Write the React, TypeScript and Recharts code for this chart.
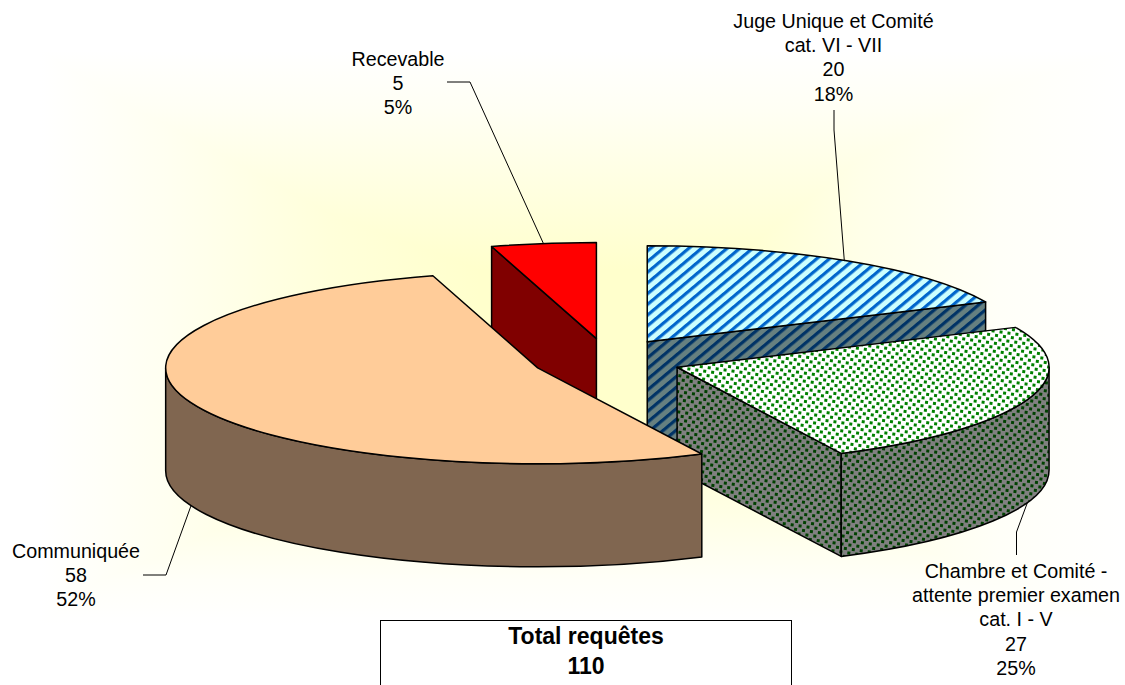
import React from 'react';
import { PieChart, Pie } from 'recharts';

// drawing order is back to front, so Recevable comes first
const categories = ['Recevable', 'Juge Unique et Comité\ncat. VI - VII', 'Chambre et Comité -\nattente premier examen\ncat. I - V', 'Communiquée'];
const values = [5, 20, 27, 58];
const percents = [5, 18, 25, 52];

const total = values.reduce((a, b) => a + b, 0);
const chartData = categories.map((name, i) => ({ name, value: values[i], percent: percents[i] }));

const topFills = ['#FF0000', 'url(#hatchTop)', 'url(#dotsTop)', '#FFCC99'];
const wallFills = ['#800000', 'url(#hatchWall)', 'url(#dotsWall)', '#806650'];

const SQUASH = 96 / 372;
const EXPLODE = 0.2;
const EXPLODE_Y = 0.225;
const DEPTH = 103;
const FONT = '"Liberation Sans", Arial, sans-serif';

const labelLayout = [
  { x: 398, y: 65.5, leader: [[447, 82], [470, 82]], onWall: false, dx: 0, dy: 0 },
  { x: 833.5, y: 27.5, leader: [[834, 110], [834, 130]], onWall: false, dx: -4, dy: 0 },
  { x: 1016, y: 577.5, leader: [[1016.5, 555], [1016.5, 532]], onWall: true, dx: 0, dy: 0 },
  { x: 76, y: 557.5, leader: [[143, 575], [166, 575]], onWall: true, dx: 0, dy: 0 },
];

const rad = (deg: number) => (deg * Math.PI) / 180;

const ellipsePoint = (cx: number, cy: number, r: number, deg: number) => ({
  x: cx + r * Math.cos(rad(deg)),
  y: cy - r * SQUASH * Math.sin(rad(deg)),
});

const explodedCenter = (cx: number, cy: number, r: number, mid: number) => ({
  x: cx + r * EXPLODE * Math.cos(rad(mid)),
  y: cy - r * SQUASH * EXPLODE_Y * Math.sin(rad(mid)),
});

const Slice3D = (props: any) => {
  const { cx, cy, outerRadius: r, startAngle: s, endAngle: e, index } = props;
  const c = explodedCenter(cx, cy, r, (s + e) / 2);
  const ry = r * SQUASH;
  const p1 = ellipsePoint(c.x, c.y, r, s);
  const p2 = ellipsePoint(c.x, c.y, r, e);
  const large = s - e > 180 ? 1 : 0;
  const top = `M${c.x},${c.y} L${p1.x},${p1.y} A${r},${ry} 0 ${large} 1 ${p2.x},${p2.y} Z`;

  const face = (p: { x: number; y: number }) =>
    `M${c.x},${c.y} L${p.x},${p.y} L${p.x},${p.y + DEPTH} L${c.x},${c.y + DEPTH} Z`;

  // the rim only shows on the front half of the ellipse
  const frontStart = Math.min(s, 0);
  const frontEnd = Math.max(e, -180);
  let rim = '';
  if (frontStart > frontEnd) {
    const a = ellipsePoint(c.x, c.y, r, frontStart);
    const b = ellipsePoint(c.x, c.y, r, frontEnd);
    rim = `M${a.x},${a.y} A${r},${ry} 0 0 1 ${b.x},${b.y} L${b.x},${b.y + DEPTH} A${r},${ry} 0 0 0 ${a.x},${a.y + DEPTH} Z`;
  }

  const common = { stroke: '#000', strokeWidth: 1.5, strokeLinejoin: 'round' as const };
  return (
    <g>
      {Math.cos(rad(s)) < -0.001 && <path d={face(p1)} fill={wallFills[index]} {...common} />}
      {Math.cos(rad(e)) > 0.001 && <path d={face(p2)} fill={wallFills[index]} {...common} />}
      {rim && <path d={rim} fill={wallFills[index]} {...common} />}
      <path d={top} fill={topFills[index]} {...common} />
    </g>
  );
};

const SliceLabel = (props: any) => {
  const { cx, cy, outerRadius: r, midAngle, index } = props;
  const layout = labelLayout[index];
  const row = chartData[index];
  const c = explodedCenter(cx, cy, r, midAngle);
  const anchor = ellipsePoint(c.x, c.y, r, midAngle);
  const endY = anchor.y + (layout.onWall ? DEPTH : 0) + layout.dy;
  const lines = [...row.name.split('\n'), String(row.value), `${row.percent}%`];
  const points = [...layout.leader, [anchor.x + layout.dx, endY]].map((p) => p.join(',')).join(' ');
  return (
    <g>
      <polyline points={points} fill="none" stroke="#000" strokeWidth={1} />
      <text x={layout.x} y={layout.y} textAnchor="middle" fontFamily={FONT} fontSize={19.7} fill="#000">
        {lines.map((line, i) => (
          <tspan key={i} x={layout.x} y={layout.y + i * 24.4}>{line}</tspan>
        ))}
      </text>
    </g>
  );
};

export default function App() {
  const startAngle = 90 + (values[0] / total) * 360;
  return (
    <div
      style={{
        position: 'absolute',
        left: 0,
        top: 0,
        width: 1125,
        height: 685,
        overflow: 'hidden',
        backgroundColor: '#000',
        backgroundImage:
          'linear-gradient(to right, #fff 40px, #FFFFF0 170px, #FFFFDA 330px, #FFFFCC 480px, #FFFFCC 720px, #FFFFE8 860px, #FFFFF8 1000px, #fff 1125px), linear-gradient(to bottom, #fff 50px, #FFFFF4 110px, #FFFFE0 190px, #FFFFCC 270px, #FFFFCC 420px, #FFFFE4 510px, #FFFFF8 580px, #fff 625px)',
        backgroundBlendMode: 'lighten',
      }}
    >
      <PieChart width={1125} height={685} margin={{ top: 0, right: 0, bottom: 0, left: 0 }}>
        <defs>
          <pattern id="hatchTop" patternUnits="userSpaceOnUse" width={8.2} height={8} patternTransform="rotate(50)">
            <rect width={8.2} height={8} fill="#CCFFFF" />
            <rect width={3.2} height={8} fill="#0066CC" />
          </pattern>
          <pattern id="hatchWall" patternUnits="userSpaceOnUse" width={8.2} height={8} patternTransform="rotate(50)">
            <rect width={8.2} height={8} fill="#668080" />
            <rect width={3.2} height={8} fill="#003366" />
          </pattern>
          <pattern id="dotsTop" patternUnits="userSpaceOnUse" width={8} height={8} patternTransform="rotate(8)">
            <rect width={8} height={8} fill="#fff" />
            <rect x={0} y={0} width={3} height={3} fill="#008000" />
            <rect x={4} y={4} width={3} height={3} fill="#008000" />
          </pattern>
          <pattern id="dotsWall" patternUnits="userSpaceOnUse" width={8} height={8} patternTransform="rotate(8)">
            <rect width={8} height={8} fill="#808080" />
            <rect x={0} y={0} width={3} height={3} fill="#004000" />
            <rect x={4} y={4} width={3} height={3} fill="#004000" />
          </pattern>
        </defs>
        <Pie
          data={chartData}
          dataKey="value"
          nameKey="name"
          cx={607}
          cy={360}
          outerRadius={372}
          startAngle={startAngle}
          endAngle={startAngle - 360}
          shape={Slice3D}
          label={SliceLabel}
          labelLine={false}
          isAnimationActive={false}
        />
      </PieChart>
      <div
        style={{
          position: 'absolute',
          left: 380,
          top: 620,
          width: 410,
          height: 80,
          background: '#fff',
          border: '1px solid #000',
          textAlign: 'center',
          fontFamily: FONT,
          fontWeight: 'bold',
          fontSize: 23,
          lineHeight: '29.5px',
          paddingTop: 1,
          color: '#000',
        }}
      >
        Total requêtes
        <br />
        {total}
      </div>
    </div>
  );
}
